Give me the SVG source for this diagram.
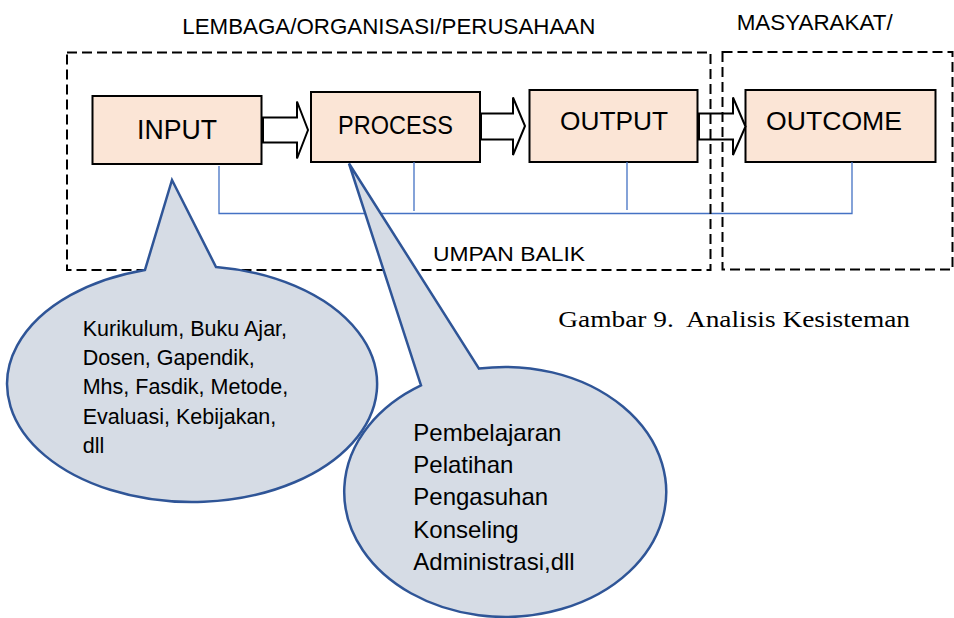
<svg xmlns="http://www.w3.org/2000/svg" width="954" height="618" viewBox="0 0 954 618">
<style>
.box{fill:#FBE5D6;stroke:#000;stroke-width:2}
.arrow{fill:#fff;stroke:#000;stroke-width:2;stroke-linejoin:miter}
.dash{fill:none;stroke:#000;stroke-width:2;stroke-dasharray:10 5}
.fb{fill:none;stroke:#4472C4;stroke-width:1.3}
.call{fill:#D6DCE5;stroke:#2F5597;stroke-width:2.5;stroke-linejoin:miter}
.t{font-family:"Liberation Sans",Arial,sans-serif;fill:#000}
.cap{font-family:"Liberation Serif","Times New Roman",serif;fill:#000;white-space:pre}
</style>
<rect width="954" height="618" fill="#fff"/>
<g id="labels">
<text class="t" x="182.3" y="34.3" font-size="22" textLength="413" lengthAdjust="spacingAndGlyphs">LEMBAGA/ORGANISASI/PERUSAHAAN</text>
<text class="t" x="736.7" y="30" font-size="22" textLength="156" lengthAdjust="spacingAndGlyphs">MASYARAKAT/</text>
<text class="t" x="433" y="260.7" font-size="21" textLength="152" lengthAdjust="spacingAndGlyphs">UMPAN BALIK</text>
<text class="cap" x="558.3" y="326.7" font-size="24" textLength="351.7" lengthAdjust="spacingAndGlyphs" xml:space="preserve">Gambar 9.  Analisis Kesisteman</text>
</g>
<g id="input">
<rect class="box" x="92.5" y="96" width="169" height="68"/>
<text class="t" x="177" y="138.5" font-size="27" text-anchor="middle" textLength="80" lengthAdjust="spacingAndGlyphs">INPUT</text>
</g>
<g id="process">
<rect class="box" x="311" y="92" width="169" height="70"/>
<text class="t" x="395.5" y="133.5" font-size="26" text-anchor="middle" textLength="115" lengthAdjust="spacingAndGlyphs">PROCESS</text>
</g>
<g id="output">
<rect class="box" x="529.5" y="90" width="168" height="72"/>
<text class="t" x="614" y="130" font-size="26" text-anchor="middle" textLength="108" lengthAdjust="spacingAndGlyphs">OUTPUT</text>
</g>
<g id="outcome">
<rect class="box" x="745.5" y="90" width="190" height="72"/>
<text class="t" x="834" y="130" font-size="26" text-anchor="middle" textLength="136" lengthAdjust="spacingAndGlyphs">OUTCOME</text>
</g>
<g id="connectors">
<polygon class="arrow" points="263,117.5 297,117.5 297,101.5 308,130 297,158.5 297,142.5 263,142.5"/>
<polygon class="arrow" points="481,113.5 513,113.5 513,97.5 525,126 513,155 513,139.5 481,139.5"/>
<polygon class="arrow" points="699,113.5 733,113.5 733,97.5 745.5,126.5 733,155 733,139.5 699,139.5"/>
<path class="fb" d="M219,166 V213.5 H852 V162 M414,162 V211 M627,162 V210"/>
</g>
<g id="boundaries">
<rect class="dash" x="67" y="52.5" width="643.5" height="217.5"/>
<rect class="dash" x="722.5" y="52" width="230" height="217.5"/>
</g>
<g id="callout-input">
<path class="call" d="M145,269.9 L172,180 L216,267 A185,118 0 1,1 145,269.9 Z"/>
<text class="t" font-size="21.5">
<tspan x="82.7" y="335.7">Kurikulum, Buku Ajar,</tspan>
<tspan x="82.7" y="365">Dosen, Gapendik,</tspan>
<tspan x="82.7" y="394.3">Mhs, Fasdik, Metode,</tspan>
<tspan x="82.7" y="423.6">Evaluasi, Kebijakan,</tspan>
<tspan x="82.7" y="452.8">dll</tspan>
</text>
</g>
<g id="callout-process">
<path class="call" d="M421,385.4 L349,163.5 L479,368.6 A161,125 0 1,1 421,385.4 Z"/>
<text class="t" font-size="24">
<tspan x="413.3" y="440.7">Pembelajaran</tspan>
<tspan x="413.3" y="473">Pelatihan</tspan>
<tspan x="413.3" y="505.3">Pengasuhan</tspan>
<tspan x="413.3" y="537.6">Konseling</tspan>
<tspan x="413.3" y="570">Administrasi,dll</tspan>
</text>
</g>
</svg>
